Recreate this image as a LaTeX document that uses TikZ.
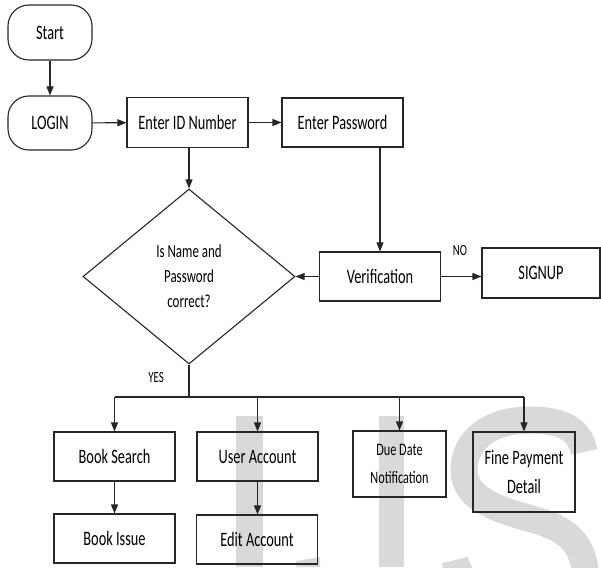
\documentclass[tikz,border=0pt]{standalone}
\usepackage{fontspec}
\setmainfont{Carlito}[FakeStretch=0.7]
\usetikzlibrary{shapes.geometric,arrows.meta}
\tikzset{
  proc/.style={draw=black!85, line width=1.1pt, inner sep=0pt, align=center, font=\fontsize{20.5}{24}\selectfont},
  term/.style={proc, rounded corners=21pt},
  decision/.style={proc, diamond, font=\fontsize{18.5}{25}\selectfont},
  lbl/.style={font=\fontsize{15.5}{16}\selectfont, inner sep=0pt},
  conn/.style={line width=1.1pt, draw=black!85},
  arr/.style={conn, -{Triangle[length=9pt,width=7pt]}},
  wm/.style={fill=black!15, draw=none},
  wmline/.style={draw=black!15, line width=27pt}
}
\begin{document}
\begin{tikzpicture}[x=1pt,y=-1pt]
\useasboundingbox (0,0) rectangle (601,567);
% watermark
\begin{scope}
  \clip (0,0) rectangle (601,567);
  \fill[wm] (236,416) rectangle (263,567);
  \fill[wm] (379,416) rectangle (404,567);
  \fill[wm] (296,561) -- (320,557) -- (320,567) -- (296,567) -- cycle;
  \draw[wmline] (584,452) .. controls (580,428) and (560,420) .. (530,420)
     .. controls (490,420) and (464,440) .. (464,470)
     .. controls (464,500) and (500,510) .. (535,520)
     .. controls (570,530) and (586,545) .. (586,585)
     .. controls (586,625) and (470,625) .. (455,560);
\end{scope}
% nodes
\node[term, minimum width=84pt, minimum height=55pt] (start) at (50,32.5) {Start};
\node[term, minimum width=84pt, minimum height=54pt] (login) at (50,123) {LOGIN};
\node[proc, minimum width=121pt, minimum height=50pt] (enterid) at (187.5,122.5) {Enter ID Number};
\node[proc, minimum width=121pt, minimum height=49pt] (enterpw) at (342.5,122.5) {Enter Password};
\node[decision, minimum width=212pt, minimum height=175pt] (dec) at (189,276.5) {Is Name and\\Password\\correct?};
\node[proc, minimum width=121pt, minimum height=49pt] (verif) at (380,276.5) {Verification};
\node[proc, minimum width=118pt, minimum height=50pt] (signup) at (541,273) {SIGNUP};
\node[proc, minimum width=121pt, minimum height=49pt] (booksearch) at (114.5,456.5) {Book Search};
\node[proc, minimum width=121pt, minimum height=49pt] (bookissue) at (114.5,538.5) {Book Issue};
\node[proc, minimum width=121pt, minimum height=49pt] (useracc) at (257.5,456.5) {User Account};
\node[proc, minimum width=121pt, minimum height=49pt] (editacc) at (257,539.5) {Edit Account};
\node[proc, minimum width=93pt, minimum height=66pt, font=\fontsize{17.5}{28}\selectfont] (duedate) at (399.5,464) {Due Date\\Notification};
\node[proc, minimum width=102pt, minimum height=80pt, font=\fontsize{20.5}{29}\selectfont] (fine) at (524,472) {Fine Payment\\Detail};
\node[lbl] (no) at (460,251) {NO};
\node[lbl] (yes) at (156,378) {YES};
% connectors
\draw[arr] (start) -- (login);
\draw[arr] (login) -- (enterid);
\draw[arr] (enterid) -- (enterpw);
\draw[arr] (dec.north |- enterid.south) -- (dec.north);
\draw[arr] (verif.north |- enterpw.south) -- (verif.north);
\draw[arr] (verif.west) -- (dec.east);
\draw[arr] (verif.east) -- (verif.east -| signup.west);
\coordinate (bar) at (189,397);
\draw[conn] (dec.south) -- (bar);
\draw[conn] (bar -| booksearch.north) -- (bar -| fine.north);
\draw[arr] (bar -| booksearch.north) -- (booksearch.north);
\draw[arr] (bar -| useracc.north) -- (useracc.north);
\draw[arr] (bar -| duedate.north) -- (duedate.north);
\draw[arr] (bar -| fine.north) -- (fine.north);
\draw[arr] (booksearch.south) -- (booksearch.south |- bookissue.north);
\draw[arr] (useracc.south) -- (useracc.south |- editacc.north);
\end{tikzpicture}
\end{document}
